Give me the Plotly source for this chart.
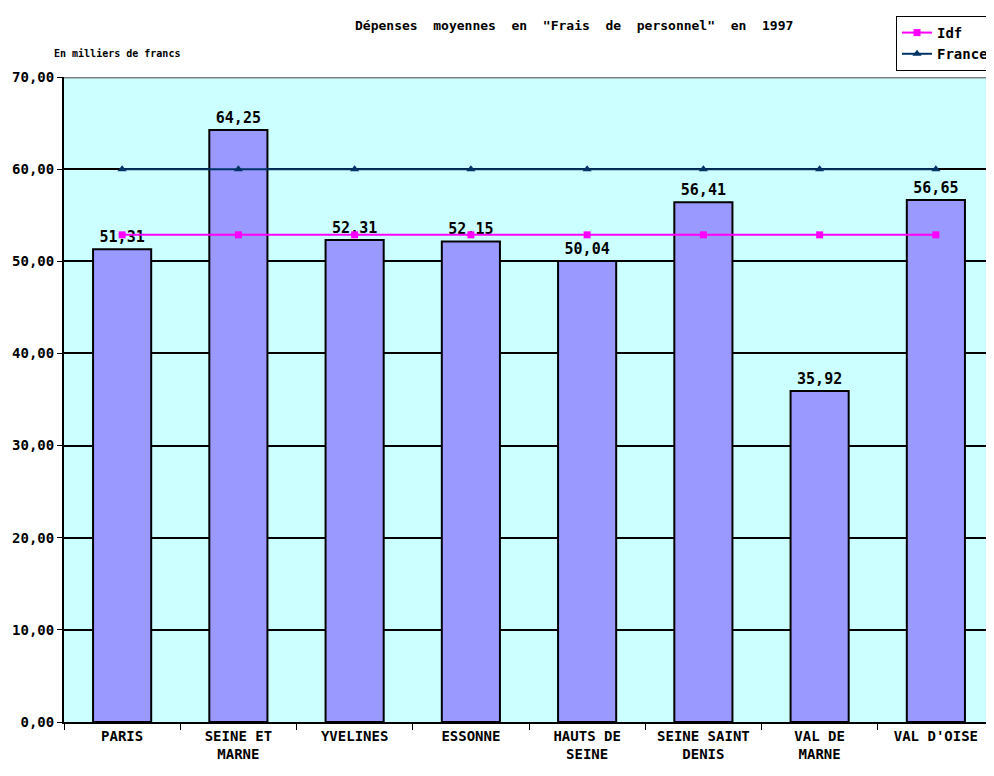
import plotly.graph_objects as go

categories = ["PARIS", "SEINE ET<br>MARNE", "YVELINES", "ESSONNE", "HAUTS DE<br>SEINE",
              "SEINE SAINT<br>DENIS", "VAL DE<br>MARNE", "VAL D'OISE"]
depenses = [51.31, 64.25, 52.31, 52.15, 50.04, 56.41, 35.92, 56.65]
idf = [52.87] * 8
france = [60.0] * 8
yticks = [0, 10, 20, 30, 40, 50, 60, 70]

FONT = "DejaVu Sans Mono"

fig = go.Figure()
fig.add_trace(go.Bar(
    x=categories, y=depenses, showlegend=False,
    marker=dict(color="#9999FF", line=dict(color="black", width=2)),
    text=depenses, texttemplate="%{y:.2f}", textposition="outside",
    textfont=dict(family=FONT, size=15, color="black", weight="bold"),
    cliponaxis=False,
))
fig.add_trace(go.Scatter(
    x=categories, y=idf, name="Idf", mode="lines+markers", legendgroup="a",
    line=dict(color="#FF00FF", width=2), marker=dict(symbol="square", size=7, color="#FF00FF"),
))
fig.add_trace(go.Scatter(
    x=categories, y=france, name="France", mode="lines+markers", legendgroup="b",
    line=dict(color="#003366", width=2), marker=dict(symbol="triangle-up", size=8, color="#003366"),
))

fig.add_shape(type="line", xref="paper", yref="y", x0=0, x1=1, y0=70, y1=70,
              line=dict(color="#808080", width=3))

fig.update_layout(
    width=986, height=768,
    margin=dict(l=56, r=0, t=69, b=54),
    paper_bgcolor="white", plot_bgcolor="#CCFFFF",
    separators=", ",
    bargap=0.5,
    font=dict(family=FONT, color="black", size=14, weight="bold"),
    xaxis=dict(showline=True, linecolor="black", linewidth=2, ticks="outside",
               tickson="boundaries", ticklen=6, tickcolor="black", tickwidth=1,
               tickfont=dict(family=FONT, size=14, color="black", weight="bold"), showgrid=False,
               automargin=False),
    yaxis=dict(range=[0, 70], tickvals=yticks, tickformat=".2f", showline=True,
               linecolor="black", linewidth=2, ticks="outside", ticklen=5, tickcolor="black",
               showgrid=True, gridcolor="black", gridwidth=2, zeroline=False,
               tickfont=dict(family=FONT, size=14, color="black", weight="bold"), automargin=False),
    legend=dict(x=1.0, xanchor="right", y=1.0946, yanchor="top", bgcolor="white",
                bordercolor="black", borderwidth=1,
                font=dict(family=FONT, size=14, color="black", weight="bold"),
                tracegroupgap=0, itemwidth=30),
    annotations=[
        dict(text="Dépenses  moyennes  en  \"Frais  de  personnel\"  en  1997",
             xref="paper", yref="paper", x=0.548, y=1.0806, xanchor="center", yanchor="middle",
             showarrow=False, font=dict(family=FONT, size=13, color="black", weight="bold")),
        dict(text="En milliers de francs", xref="paper", yref="paper",
             x=-0.0129, y=1.0357, xanchor="left", yanchor="middle", showarrow=False,
             font=dict(family=FONT, size=10, color="black", weight="bold")),
    ],
)

fig.write_html("out.html")
